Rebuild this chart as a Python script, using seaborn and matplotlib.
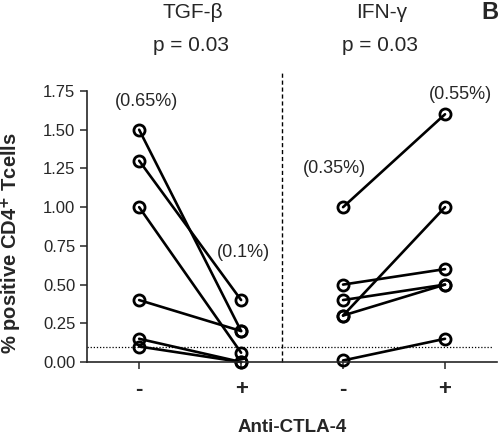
import matplotlib
matplotlib.use("Agg")
import matplotlib.pyplot as plt
import matplotlib.transforms as mtransforms
import pandas as pd
import seaborn as sns

# paired values, before (-) and after (+) anti-CTLA-4
tgf_minus = [1.50, 1.30, 1.00, 0.40, 0.15, 0.10]
tgf_plus = [0.20, 0.40, 0.06, 0.20, 0.00, 0.00]
ifn_minus = [1.00, 0.50, 0.40, 0.30, 0.30, 0.01]
ifn_plus = [1.60, 0.60, 0.50, 1.00, 0.50, 0.15]

panels = ["TGF-β", "IFN-γ"]
p_values = ["p = 0.03", "p = 0.03"]
tick_labels = ["-", "+", "-", "+"]
annotations = ["(0.65%)", "(0.1%)", "(0.35%)", "(0.55%)"]
annot_y = [1.68, 0.71, 1.25, 1.73]
threshold = 0.1

rows = []
for i, (a, b) in enumerate(zip(tgf_minus, tgf_plus)):
    rows.append(dict(subject=f"t{i}", pos=0, value=a))
    rows.append(dict(subject=f"t{i}", pos=1, value=b))
for i, (a, b) in enumerate(zip(ifn_minus, ifn_plus)):
    rows.append(dict(subject=f"i{i}", pos=2, value=a))
    rows.append(dict(subject=f"i{i}", pos=3, value=b))
df = pd.DataFrame(rows)

sns.set_style("ticks")
plt.rcParams["font.family"] = ["Liberation Sans", "DejaVu Sans"]

fig = plt.figure(figsize=(4.98, 4.38), dpi=100)
ax = fig.add_axes([0.175, 0.1735, 0.823, 0.6187])

sns.lineplot(data=df, x="pos", y="value", units="subject", estimator=None,
             color="black", linewidth=1.9, marker="o", markersize=8,
             markerfacecolor="none", markeredgecolor="black",
             markeredgewidth=2.0, ax=ax, legend=False)
for ln in ax.lines:
    ln.set_clip_on(False)

ax.axhline(threshold, color="black", linestyle=(0, (1, 1.5)), linewidth=0.9,
           xmin=0, xmax=0.99, zorder=0)
ax.plot([1.4, 1.4], [0, 1.87], color="black", linestyle=(0, (3, 2)),
        linewidth=1.0, clip_on=False)

ax.set_xlim(-0.51, 3.51)
ax.set_ylim(0, 1.75)
ax.set_yticks([0, 0.25, 0.5, 0.75, 1.0, 1.25, 1.5, 1.75])
ax.set_yticklabels([f"{v:.2f}" for v in ax.get_yticks()], fontsize=12)
ax.set_xticks([0, 1, 2, 3])
ax.set_xticklabels(tick_labels, fontsize=16, fontweight="bold")
ax.tick_params(axis="x", length=5, width=1.1, pad=7)
ax.tick_params(axis="y", length=5, width=1.1)
for s in ["left", "bottom"]:
    ax.spines[s].set_linewidth(1.2)
sns.despine(ax=ax)

ax.set_xlabel("Anti-CTLA-4", fontsize=13.5, fontweight="bold", labelpad=14)
ax.set_ylabel("% positive CD4$^{\\mathbf{+}}$ Tcells", fontsize=14.5,
              fontweight="bold")
ax.yaxis.set_label_coords(-0.153, 0.44)

for x, y, t in zip([0.07, 1.02, 1.92, 3.15], annot_y, annotations):
    ax.text(x, y, t, ha="center", va="center", fontsize=13)

trans = mtransforms.blended_transform_factory(ax.transData, fig.transFigure)
for x, name, p in zip([0.53, 2.38], panels, p_values):
    ax.text(x, 0.972, name, transform=trans, ha="center", va="center", fontsize=15)
    ax.text(x - 0.02, 0.897, p, transform=trans, ha="center", va="center", fontsize=15)
fig.text(0.984, 0.972, "B", ha="center", va="center", fontsize=17, fontweight="bold")

fig.savefig("out.png", dpi=100)
